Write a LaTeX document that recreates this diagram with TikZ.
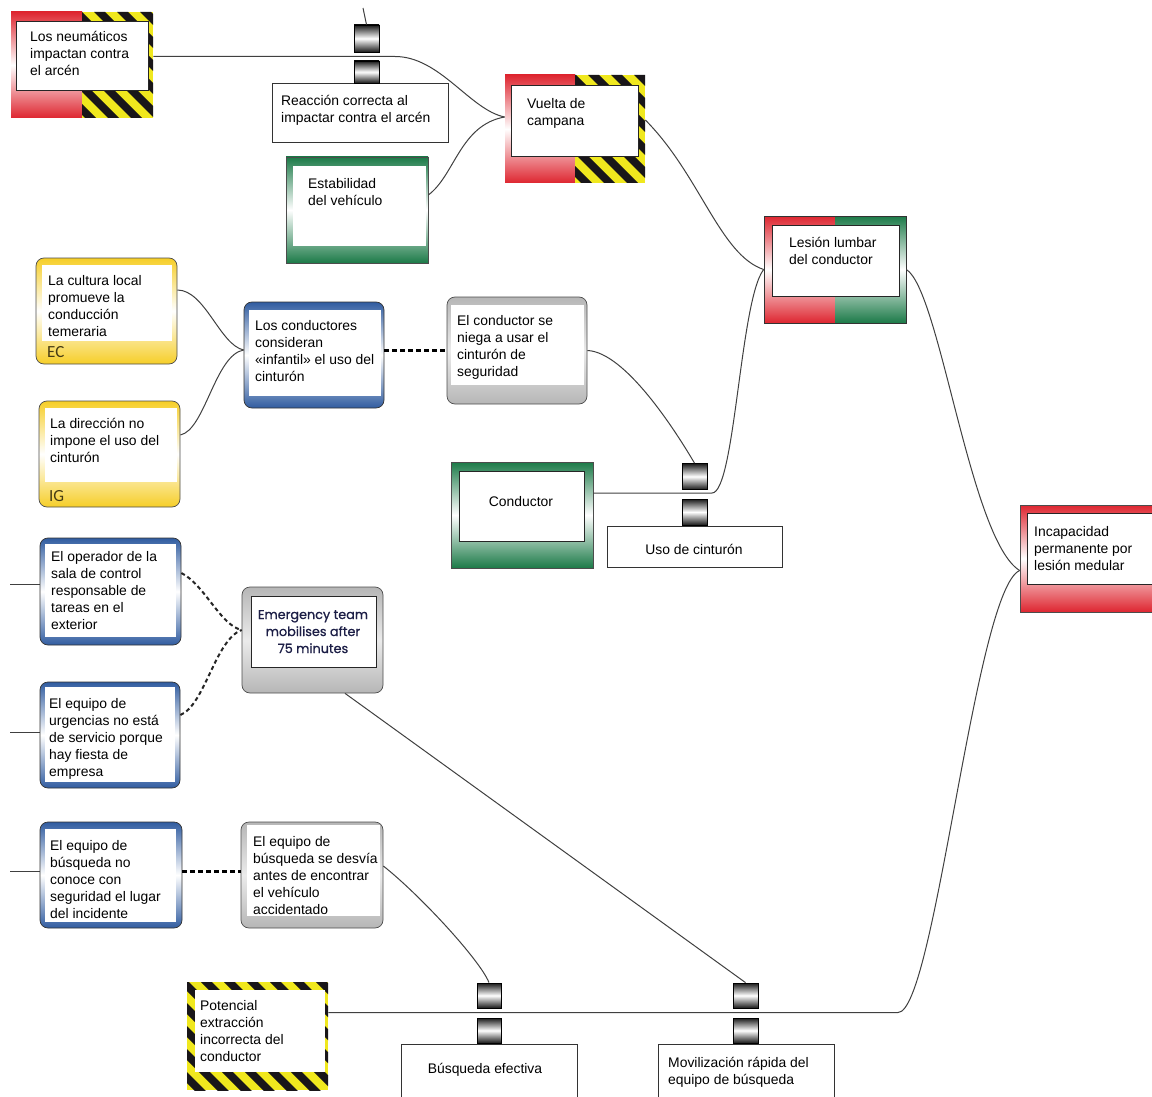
\documentclass[tikz,border=0pt]{standalone}
\usepackage{fontspec}
\setmainfont{Liberation Sans}
\newfontfamily\tagfont{Carlito}
\newfontfamily\capfont[FakeBold=0.8]{Poppins}
\usetikzlibrary{calc}

\definecolor{alarmred}{RGB}{222,38,48}
\definecolor{safegreen}{RGB}{28,122,72}
\definecolor{ecyellow}{RGB}{246,206,40}
\definecolor{ctrlblue}{RGB}{48,92,160}
\definecolor{neutralgrey}{RGB}{182,182,182}
\definecolor{stripeyellow}{RGB}{240,232,30}
\definecolor{stripeblack}{RGB}{25,22,25}
\definecolor{capnavy}{RGB}{28,30,70}
\definecolor{tagink}{RGB}{70,60,20}

% diagonal warning stripes filling the current path picture
\newcommand\warnstripes{%
  \fill[stripeyellow] (path picture bounding box.south west) rectangle (path picture bounding box.north east);
  \foreach \k in {0,...,15}
    \fill[stripeblack] ([xshift=\k*23pt-170pt]path picture bounding box.north west)
      -- ++(11pt,0pt) -- ++(170pt,-170pt) -- ++(-11pt,0pt) -- cycle;
}

% text nodes are placed by the baseline of their last line (17pt line pitch)
\tikzset{
  txt/.style={anchor=base west, inner sep=0pt, align=left, font=\fontsize{13.9}{17}\selectfont},
  ctxt/.style={anchor=base, inner sep=0pt, align=center, font=\fontsize{13.9}{17}\selectfont},
  frame/.style={inner sep=0pt, minimum width=141pt, minimum height=106pt, draw=black!70, line width=0.7pt},
  redbox/.style={frame, top color=alarmred, bottom color=alarmred, middle color=white},
  greenbox/.style={frame, top color=safegreen, bottom color=safegreen, middle color=white},
  yellowbox/.style={frame, rounded corners=8pt, top color=ecyellow, bottom color=ecyellow, middle color=white},
  bluebox/.style={frame, rounded corners=8pt, draw=black!80, top color=ctrlblue, bottom color=ctrlblue, middle color=white},
  greybox/.style={frame, rounded corners=8pt, top color=neutralgrey, bottom color=neutralgrey, middle color=white!92!black},
  halfwarn/.style={frame, draw=none, path picture={
      \shade[top color=alarmred, bottom color=alarmred, middle color=white]
        (path picture bounding box.south west) rectangle (path picture bounding box.north);
      \begin{scope}
        \clip (path picture bounding box.south) rectangle (path picture bounding box.north east);
        \warnstripes
      \end{scope}}},
  fullwarn/.style={frame, draw=none, path picture={\warnstripes}},
  redgreen/.style={frame, draw=black!80, path picture={
      \shade[top color=alarmred, bottom color=alarmred, middle color=white]
        (path picture bounding box.south west) rectangle (path picture bounding box.north);
      \shade[top color=safegreen, bottom color=safegreen, middle color=white]
        (path picture bounding box.south) rectangle (path picture bounding box.north east);}},
  plainbox/.style={draw=black!80, line width=0.7pt, fill=white, inner sep=0pt},
  inner/.style={fill=white, draw=black!85, line width=0.7pt, inner sep=0pt},
  innerfree/.style={fill=white, inner sep=0pt},
  barrier/.style={draw=black, line width=0.8pt, top color=black!90, bottom color=black!90,
      middle color=white, minimum width=25pt, minimum height=26pt, inner sep=0pt},
  tag/.style={anchor=base west, inner sep=0pt, font=\tagfont\fontsize{17}{17}\selectfont, text=tagink},
  link/.style={draw=black!75, line width=1pt},
  weakdash/.style={draw=black!85, line width=2pt, dash pattern=on 4pt off 3pt},
  strongdash/.style={draw=black, line width=3pt, dash pattern=on 5pt off 3pt},
}

\begin{document}
\begin{tikzpicture}[x=1pt,y=-1pt]
\useasboundingbox (0,0) rectangle (1152,1097);

% ---- top chain: tyres hit the verge -> rollover
\node[halfwarn, minimum width=142pt] (neum) at (82,65) {};
\node[inner, minimum width=132pt, minimum height=69pt] (neumin) at (82,55.5) {};
\node[txt] (neumt) at (30,76) {Los neumáticos\\impactan contra\\el arcén};

\node[plainbox, minimum width=176pt, minimum height=59pt] (reac) at (360,112.5) {};
\node[txt] (react) at (281,123) {Reacción correcta al\\impactar contra el arcén};

\node[greenbox, minimum width=142pt] (estab) at (357,210) {};
\node[innerfree, minimum width=133pt, minimum height=80pt] (estabin) at (359.5,206) {};
\node[txt] (estabt) at (308,205) {Estabilidad\\del vehículo};

\node[halfwarn, minimum width=140pt, minimum height=108pt] (vuelta) at (575,129) {};
\node[inner, minimum width=127pt, minimum height=71pt] (vueltain) at (574.5,120.5) {};
\node[txt] (vueltat) at (527,126) {Vuelta de\\campana};

\node[redgreen, minimum width=142pt, minimum height=107pt] (lesion) at (835,269.5) {};
\node[inner, minimum width=127pt, minimum height=71pt] (lesionin) at (835.5,260.5) {};
\node[txt] (lesiont) at (789,264) {Lesión lumbar\\del conductor};

\node[redbox, minimum width=142pt, minimum height=107pt] (incap) at (1091,558.5) {};
\node[inner, minimum width=135pt, minimum height=71pt] (incapin) at (1094.5,548.5) {};
\node[txt] (incapt) at (1034,570) {Incapacidad\\permanente por\\lesión medular};

% ---- seat-belt branch
\node[yellowbox] (ec) at (106.5,311) {};
\node[innerfree, minimum width=130pt, minimum height=76pt] (ecin) at (107,303) {};
\node[txt] (ect) at (48,336) {La cultura local\\promueve la\\conducción\\temeraria};
\node[tag] (ectag) at (47,357) {EC};

\node[yellowbox] (ig) at (109.5,454) {};
\node[innerfree, minimum width=132pt, minimum height=74pt] (igin) at (111,445) {};
\node[txt] (igt) at (50,462) {La dirección no\\impone el uso del\\cinturón};
\node[tag] (igtag) at (49,501) {IG};

\node[bluebox, minimum width=140pt] (cons) at (314,355) {};
\node[innerfree, minimum width=132pt, minimum height=86pt] (consin) at (315,353) {};
\node[txt] (const) at (255,381) {Los conductores\\consideran\\«infantil» el uso del\\cinturón};

\node[greybox, minimum width=140pt, minimum height=107pt] (niega) at (517,350.5) {};
\node[innerfree, minimum width=133pt, minimum height=80pt] (niegain) at (517.5,345) {};
\node[txt] (niegat) at (457,376) {El conductor se\\niega a usar el\\cinturón de\\seguridad};

\node[greenbox, minimum width=142pt] (cond) at (522,515) {};
\node[inner, minimum width=125pt, minimum height=70pt] (condin) at (521.5,506) {};
\node[ctxt] (condt) at (521,506) {Conductor};

\node[plainbox, minimum width=175pt, minimum height=41pt] (uso) at (694.5,546.5) {};
\node[ctxt] (usot) at (694,554) {Uso de cinturón};

% ---- emergency response branch
\node[bluebox, minimum height=107pt] (oper) at (110.5,591.5) {};
\node[innerfree, minimum width=131pt, minimum height=93pt] (operin) at (110.5,590.5) {};
\node[txt] (opert) at (51,629) {El operador de la\\sala de control\\responsable de\\tareas en el\\exterior};

\node[bluebox, minimum width=140pt] (urg) at (110,735) {};
\node[innerfree, minimum width=130pt, minimum height=95pt] (urgin) at (110,734.5) {};
\node[txt] (urgt) at (49,776) {El equipo de\\urgencias no está\\de servicio porque\\hay fiesta de\\empresa};

\node[greybox] (emerg) at (312.5,640) {};
\node[inner, minimum width=125pt, minimum height=71pt] (emergin) at (313.5,631.5) {};
\node[anchor=base, inner sep=0pt, align=center, text=capnavy,
      font=\capfont\fontsize{12.8}{17}\selectfont] (emergt) at (313,653)
      {Emergency team\\mobilises after\\75 minutes};

\node[bluebox, minimum width=142pt] (busq) at (111,875) {};
\node[innerfree, minimum width=131pt, minimum height=93pt] (busqin) at (110.5,875.5) {};
\node[txt] (busqt) at (50,918) {El equipo de\\búsqueda no\\conoce con\\seguridad el lugar\\del incidente};

\node[greybox, minimum width=142pt] (desv) at (312,875) {};
\node[innerfree, minimum width=133pt, minimum height=91pt] (desvin) at (313.5,870.5) {};
\node[txt] (desvt) at (253,914) {El equipo de\\búsqueda se desvía\\antes de encontrar\\el vehículo\\accidentado};

\node[fullwarn, minimum height=108pt] (poten) at (257.5,1036) {};
\node[innerfree, minimum width=130pt, minimum height=82pt] (potenin) at (260,1031) {};
\node[txt] (potent) at (200,1061) {Potencial\\extracción\\incorrecta del\\conductor};

\node[plainbox, minimum width=176pt, minimum height=66pt] (befec) at (489,1077) {};
\node[ctxt] (befect) at (485,1073) {Búsqueda efectiva};

\node[plainbox, minimum width=176pt, minimum height=66pt] (movil) at (746,1077) {};
\node[txt] (movilt) at (668,1084) {Movilización rápida del\\equipo de búsqueda};

% ---- barriers
\node[barrier, minimum height=27pt] (b1u) at (366.5,38.5) {};
\node[barrier, minimum height=22pt] (b1l) at (366.5,72) {};
\node[barrier] (b2u) at (694.5,476.5) {};
\node[barrier] (b2l) at (694.5,512) {};
\node[barrier, minimum width=24pt, minimum height=25pt] (b3u) at (489,995.5) {};
\node[barrier, minimum width=24pt, minimum height=25pt] (b3l) at (489,1030.5) {};
\node[barrier, minimum height=25pt] (b4u) at (745.5,995.5) {};
\node[barrier, minimum height=25pt] (b4l) at (745.5,1030.5) {};

% ---- junction points
\coordinate (top) at (363,8);
\coordinate (j1) at (395,56.5);
\coordinate (j2) at (712,493);
\coordinate (j3) at (898,1012.5);
\coordinate (vin) at ($(vuelta.west)+(0,-12)$);
\coordinate (lin) at ($(lesion.west)+(0,0)$);
\coordinate (iin) at ($(incap.west)+(0,12)$);
\coordinate (cin) at ($(cons.west)+(0,-5)$);
\coordinate (ein) at ($(emerg.west)+(0,-10)$);
\coordinate (l1) at (10,584);
\coordinate (l2) at (10,732);
\coordinate (l3) at (10,871);

% ---- connectors
\draw[link] (top) -- (b1u.north);
\draw[link] (neum.east |- j1) -- (j1) .. controls (440,56.5) and (470,110) .. (vin);
\draw[link] ($(estab.east)+(0,-15)$) .. controls (455,175) and (460,125) .. (vin);
\draw[link] ($(vuelta.east)+(0,-9)$) .. controls (700,175) and (720,255) .. (lin);
\draw[link] (lesion.east) .. controls (940,290) and (970,540) .. (iin);
\draw[link] ($(poten.east)+(0,-23.5)$) -- (j3) .. controls (935,1012.5) and (975,590) .. (iin);

\draw[link] ($(ec.east)+(0,-21)$) .. controls (205,290) and (220,345) .. (cin);
\draw[link] ($(ig.east)+(0,-19)$) .. controls (205,430) and (215,355) .. (cin);
\draw[strongdash] ($(cons.east)+(0,-5)$) -- (niega.west |- cin);
\draw[link] (niega.east) .. controls (625,352) and (675,430) .. (b2u.north);
\draw[link] (cond.east |- j2) -- (j2) .. controls (735,493) and (740,300) .. (lin);

\draw[link] (l1) -- (oper.west |- l1);
\draw[link] (l2) -- (urg.west |- l2);
\draw[link] (l3) -- (busq.west |- l3);
\draw[weakdash] ($(oper.east)+(0,-18.5)$) .. controls (205,585) and (220,625) .. (ein);
\draw[weakdash] ($(urg.east)+(0,-20)$) .. controls (205,705) and (215,640) .. (ein);
\draw[link] ($(emerg.south)+(32.5,0)$) -- (b4u.north);
\draw[strongdash] ($(busq.east)+(0,-4)$) -- (desv.west |- 0,871);
\draw[link] ($(desv.east)+(0,-9)$) .. controls (420,895) and (480,960) .. (b3u.north);
\end{tikzpicture}
\end{document}
